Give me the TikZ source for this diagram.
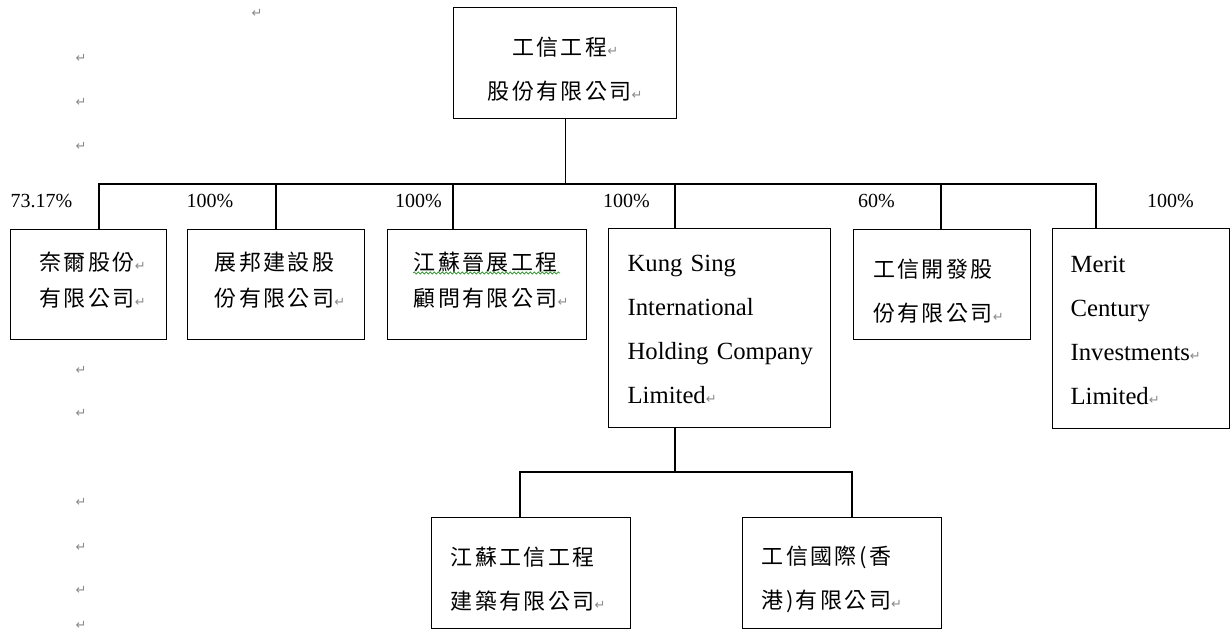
\documentclass[tikz,border=0pt]{standalone}
\usepackage{fontspec}
\setmainfont{Liberation Serif}
\newfontfamily\cjk{Noto Sans CJK TC}[LetterSpace=11]
\newfontfamily\dejavu{DejaVu Sans}
\usetikzlibrary{decorations.pathmorphing}
\definecolor{markgray}{HTML}{8A8A8A}
\definecolor{spellgreen}{HTML}{3C9A3C}
\newcommand{\ret}{{\dejavu\fontsize{13}{13}\selectfont\color{markgray}↵}}
\tikzset{
	orgbox/.style={draw, line width=1.2pt, anchor=north west, inner ysep=0pt, align=left},
	cjkrow/.style={font=\cjk\fontsize{22}{36}\selectfont, text height=9pt},
	cjkwide/.style={font=\cjk\fontsize{22}{44}\selectfont, text height=31pt},
	latwide/.style={font=\fontsize{24.7}{44}\selectfont, text height=20pt},
	pct/.style={font=\fontsize{20}{20}\selectfont, anchor=base, inner sep=0pt},
	retmark/.style={inner sep=0pt, font=\dejavu\fontsize{13}{13}\selectfont, text=markgray},
	tie/.style={line width=1.2pt}
}
\begin{document}
\begin{tikzpicture}[x=1pt, y=-1pt]
			\useasboundingbox (0,0) rectangle (1230,631);
			\fill[white] (0,0) rectangle (1230,631);

			\node[orgbox, cjkwide, minimum width=223pt, minimum height=111pt, text width=203pt, inner xsep=10pt, align=center] (gongxin) at (453,7){工信工程\ret\\股份有限公司\ret};

			% first row
			\node[orgbox, cjkrow, minimum width=156pt, minimum height=110pt, text width=98pt, inner xsep=29pt] (naier) at (10,229){奈爾股份\ret\\有限公司\ret};
			\node[orgbox, cjkrow, minimum width=177pt, minimum height=110pt, text width=123pt, inner xsep=27pt] (zhanbang) at (187,229){展邦建設股\\份有限公司\ret};
			\node[orgbox, cjkrow, minimum width=199pt, minimum height=110pt, text width=147pt, inner xsep=26pt] (jinzhan) at (387,229){江蘇晉展工程\\顧問有限公司\ret};
			\node[orgbox, latwide, minimum width=222pt, minimum height=199pt, text width=184pt, inner xsep=19pt] (kungsing) at (608,228){\mbox{Kung Sing}\\International\\\mbox{Holding Company}\\Limited\ret};
			\node[orgbox, cjkwide, minimum width=177pt, minimum height=110pt, text width=138pt, inner xsep=19.5pt] (kaifa) at (853,229){工信開發股\\份有限公司\ret};
			\node[orgbox, latwide, minimum width=177pt, minimum height=200pt, text width=141pt, inner xsep=18pt] (merit) at (1052,228){Merit\\Century\\\mbox{Investments\ret}\\Limited\ret};

			% second row
			\node[orgbox, cjkwide, minimum width=199pt, minimum height=111pt, text width=161pt, inner xsep=19pt] (jsgongxin) at (431,517){江蘇工信工程\\建築有限公司\ret};
			\node[orgbox, cjkwide, minimum width=199pt, minimum height=111pt, text width=161pt, inner xsep=19pt] (hongkong) at (742,517){工信國際(香\\港)有限公司\ret};

			\draw[spellgreen, line width=0.8pt, decorate, decoration={snake, amplitude=1pt, segment length=4pt}] (413,273) to (560,273);

			\coordinate (j1) at (99,184);
			\coordinate (j2) at (276,184);
			\coordinate (j3) at (453,184);
			\coordinate (j4) at (675,184);
			\coordinate (j5) at (941,184);
			\coordinate (j6) at (1096,184);
			\draw[tie] (gongxin.south) to (gongxin.south |- j1);
			\draw[tie] (j1 |- naier.north) to (j1) to (j6) to (j6 |- merit.north);
				\draw[tie] (j2) to (j2 |- zhanbang.north);
				\draw[tie] (j3) to (j3 |- jinzhan.north);
				\draw[tie] (j4) to (j4 |- kungsing.north);
				\draw[tie] (j5) to (j5 |- kaifa.north);

			\coordinate (k0) at (675,472);
			\coordinate (k1) at (520,472);
			\coordinate (k2) at (852,472);
			\draw[tie] (k0 |- kungsing.south) to (k0);
			\draw[tie] (k1 |- jsgongxin.north) to (k1) to (k2) to (k2 |- hongkong.north);

			\node[pct] (p1) at (41.5,207){73.17\%};
			\node[pct] (p2) at (210,207){100\%};
			\node[pct] (p3) at (418.5,207){100\%};
			\node[pct] (p4) at (626.5,207){100\%};
			\node[pct] (p5) at (876.5,207){60\%};
			\node[pct] (p6) at (1170.5,207){100\%};

			\node[retmark] (m1) at (257,13){↵};
			\node[retmark] (m2) at (81,58){↵};
			\node[retmark] (m3) at (81,102){↵};
			\node[retmark] (m4) at (81,146){↵};
			\node[retmark] (m5) at (81,370){↵};
			\node[retmark] (m6) at (81,413){↵};
			\node[retmark] (m7) at (81,502){↵};
			\node[retmark] (m8) at (81,547){↵};
			\node[retmark] (m9) at (81,590){↵};
			\node[retmark] (m10) at (81,625){↵};
\end{tikzpicture}
\end{document}
